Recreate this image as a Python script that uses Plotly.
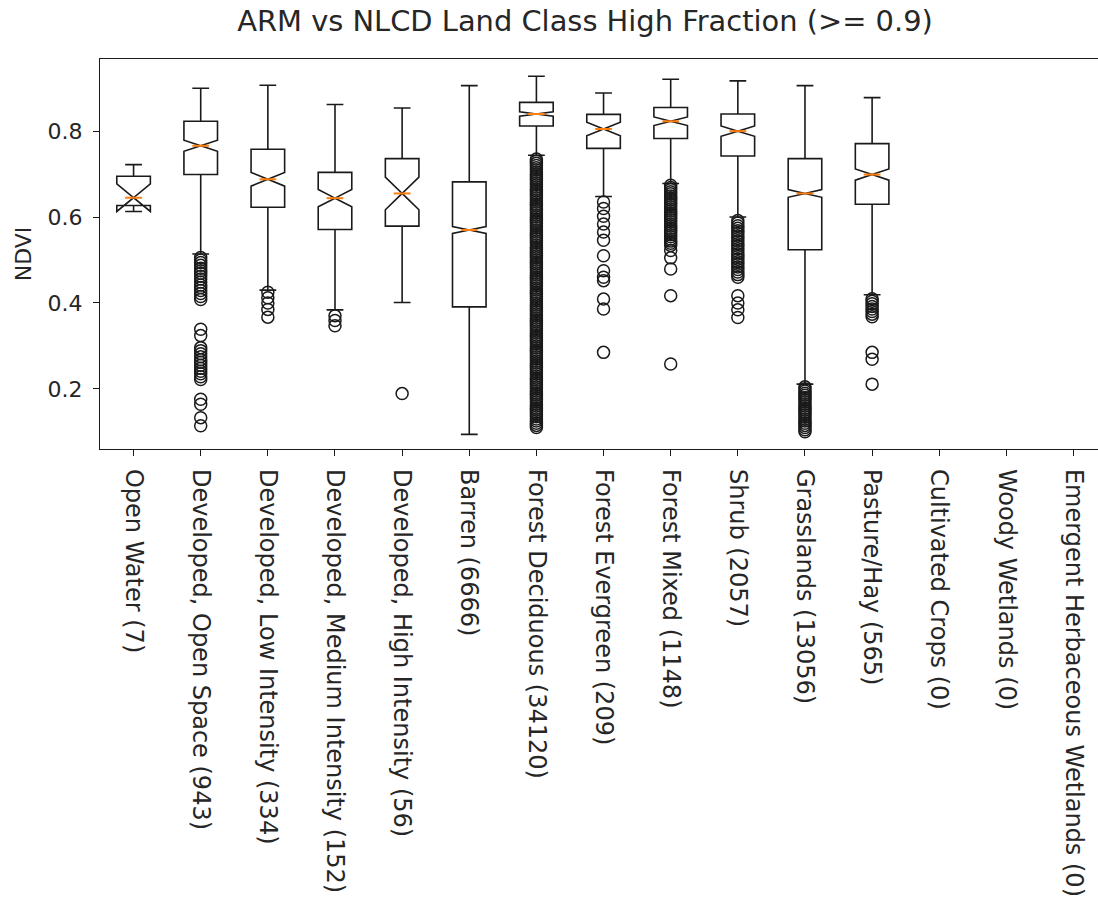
import plotly.graph_objects as go

categories = [
    "Open Water (7)", "Developed, Open Space (943)", "Developed, Low Intensity (334)",
    "Developed, Medium Intensity (152)", "Developed, High Intensity (56)", "Barren (6666)",
    "Forest Deciduous (34120)", "Forest Evergreen (209)", "Forest Mixed (1148)",
    "Shrub (2057)", "Grasslands (13056)", "Pasture/Hay (565)", "Cultivated Crops (0)",
    "Woody Wetlands (0)", "Emergent Herbaceous Wetlands (0)",
]

# box statistics (first 12 classes have data; last 3 are empty)
q1 = [0.627, 0.699, 0.623, 0.571, 0.579, 0.391, 0.812, 0.760, 0.783, 0.742, 0.524, 0.630]
median = [0.645, 0.766, 0.688, 0.644, 0.655, 0.570, 0.840, 0.805, 0.823, 0.800, 0.655, 0.699]
q3 = [0.695, 0.823, 0.758, 0.704, 0.736, 0.682, 0.867, 0.839, 0.855, 0.840, 0.736, 0.771]
lower_whisker = [0.627, 0.514, 0.430, 0.384, 0.401, 0.094, 0.744, 0.648, 0.678, 0.600, 0.211, 0.419]
upper_whisker = [0.722, 0.900, 0.907, 0.862, 0.854, 0.906, 0.928, 0.889, 0.921, 0.917, 0.906, 0.878]
notch_half = [0.032, 0.013, 0.016, 0.020, 0.038, 0.008, 0.005, 0.016, 0.010, 0.012, 0.009, 0.013]

outliers_open_water = []
outliers_dev_open = [0.506, 0.500, 0.494, 0.488, 0.481, 0.475, 0.469, 0.462, 0.456, 0.449,
                     0.442, 0.436, 0.429, 0.422, 0.415, 0.408, 0.339, 0.324,
                     0.296, 0.289, 0.282, 0.275, 0.268, 0.262, 0.255, 0.248, 0.241, 0.235,
                     0.228, 0.222, 0.176, 0.164, 0.133, 0.114]
outliers_dev_low = [0.425, 0.412, 0.400, 0.385, 0.367]
outliers_dev_med = [0.370, 0.359, 0.347]
outliers_dev_high = [0.189]
outliers_barren = []
outliers_deciduous = [
    0.735, 0.730, 0.725, 0.720, 0.715, 0.710, 0.705, 0.700, 0.695, 0.690,
    0.685, 0.680, 0.675, 0.670, 0.665, 0.660, 0.655, 0.650, 0.645, 0.640,
    0.635, 0.630, 0.625, 0.620, 0.615, 0.610, 0.605, 0.600, 0.595, 0.590,
    0.585, 0.580, 0.575, 0.570, 0.565, 0.560, 0.555, 0.550, 0.545, 0.540,
    0.535, 0.530, 0.525, 0.520, 0.515, 0.510, 0.505, 0.500, 0.495, 0.490,
    0.485, 0.480, 0.475, 0.470, 0.465, 0.460, 0.455, 0.450, 0.445, 0.440,
    0.435, 0.430, 0.425, 0.420, 0.415, 0.410, 0.405, 0.400, 0.395, 0.390,
    0.385, 0.380, 0.375, 0.370, 0.365, 0.360, 0.355, 0.350, 0.345, 0.340,
    0.335, 0.330, 0.325, 0.320, 0.315, 0.310, 0.305, 0.300, 0.295, 0.290,
    0.285, 0.280, 0.275, 0.270, 0.265, 0.260, 0.255, 0.250, 0.245, 0.240,
    0.235, 0.230, 0.225, 0.220, 0.215, 0.210, 0.205, 0.200, 0.195, 0.190,
    0.185, 0.180, 0.175, 0.170, 0.165, 0.160, 0.155, 0.150, 0.145, 0.140,
    0.135, 0.130, 0.125, 0.120, 0.115, 0.110,
]
outliers_evergreen = [0.635, 0.620, 0.602, 0.584, 0.565, 0.546, 0.510, 0.475, 0.460, 0.452,
                      0.409, 0.386, 0.285]
outliers_mixed = [0.674, 0.669, 0.664, 0.659, 0.654, 0.649, 0.644, 0.639, 0.634, 0.629,
                  0.624, 0.619, 0.614, 0.609, 0.604, 0.599, 0.594, 0.589, 0.584, 0.579,
                  0.574, 0.569, 0.564, 0.559, 0.554, 0.549, 0.544, 0.539, 0.534,
                  0.522, 0.505, 0.479, 0.417, 0.258]
outliers_shrub = [0.592, 0.586, 0.580, 0.574, 0.568, 0.562, 0.556, 0.550, 0.544, 0.538,
                  0.532, 0.526, 0.520, 0.514, 0.508, 0.502, 0.496, 0.490, 0.484, 0.478,
                  0.472, 0.466, 0.460, 0.417, 0.400, 0.384, 0.366]
outliers_grass = [0.205, 0.200, 0.195, 0.190, 0.185, 0.180, 0.175, 0.170, 0.165, 0.160,
                  0.155, 0.150, 0.145, 0.140, 0.135, 0.130, 0.125, 0.120, 0.115, 0.110,
                  0.105, 0.100]
outliers_pasture = [0.410, 0.404, 0.398, 0.392, 0.386, 0.380, 0.374, 0.368, 0.285, 0.269, 0.211]

all_outliers = [outliers_open_water, outliers_dev_open, outliers_dev_low, outliers_dev_med,
                outliers_dev_high, outliers_barren, outliers_deciduous, outliers_evergreen,
                outliers_mixed, outliers_shrub, outliers_grass, outliers_pasture]

BOX_W = 0.5
LINE = "#1a1a1a"
TXT = "#262626"
FONT = "DejaVu Sans"
FIG_W, FIG_H = 1098, 899

fig = go.Figure()

for i in range(len(q1)):
    pos = i + 1
    fig.add_trace(go.Box(
        x=[pos], q1=[q1[i]], median=[median[i]], q3=[q3[i]],
        lowerfence=[lower_whisker[i]], upperfence=[upper_whisker[i]],
        notched=True, notchspan=[notch_half[i]], notchwidth=0.5,
        width=BOX_W, whiskerwidth=0.5,
        line=dict(color=LINE, width=1.6), fillcolor="rgba(0,0,0,0)",
        boxpoints=False, showlegend=False, hoverinfo="skip",
    ))

# outliers
ox, oy = [], []
for i, vals in enumerate(all_outliers):
    for v in vals:
        ox.append(i + 1)
        oy.append(v)
fig.add_trace(go.Scatter(
    x=ox, y=oy, mode="markers", showlegend=False, hoverinfo="skip",
    marker=dict(symbol="circle-open", size=12, color=LINE, line=dict(width=1.5, color=LINE)),
))

# orange median lines across notch waist
mx, my = [], []
for i, m in enumerate(median):
    pos = i + 1
    mx += [pos - BOX_W * 0.25, pos + BOX_W * 0.25, None]
    my += [m, m, None]
fig.add_trace(go.Scatter(x=mx, y=my, mode="lines", showlegend=False, hoverinfo="skip",
                         line=dict(color="#ff7f0e", width=2)))

plot_top, plot_bottom, plot_left = 59, 449, 100
fig.update_layout(
    width=FIG_W, height=FIG_H,
    margin=dict(l=plot_left, r=0, t=plot_top, b=FIG_H - plot_bottom, autoexpand=False),
    paper_bgcolor="white", plot_bgcolor="white",
    font=dict(family=FONT, color=TXT),
    title=dict(text="ARM vs NLCD Land Class High Fraction (>= 0.9)",
               x=585 / FIG_W, xref="container", xanchor="center",
               y=1 - 21 / FIG_H, yref="container", yanchor="middle",
               font=dict(size=28.9, family=FONT, color=TXT)),
    boxmode="overlay",
    hovermode=False,
)
fig.update_xaxes(
    range=[0.5, 0.5 + 998 / 67.14], automargin=False,
    tickmode="array", tickvals=list(range(1, len(categories) + 1)), ticktext=categories,
    tickangle=90, tickfont=dict(size=24, family=FONT, color=TXT),
    showline=True, mirror=True, linecolor=LINE, linewidth=1.3,
    ticks="outside", ticklen=6, tickcolor=LINE, tickwidth=1.3,
    showgrid=False, zeroline=False, ticklabelstandoff=8,
)
fig.update_yaxes(
    range=[0.06, 0.968], automargin=False,
    tickmode="array", tickvals=[0.2, 0.4, 0.6, 0.8], ticktext=["0.2", "0.4", "0.6", "0.8"],
    tickfont=dict(size=22, family=FONT, color=TXT),
    showline=True, mirror=False, linecolor=LINE, linewidth=1.3,
    ticks="outside", ticklen=6, tickcolor=LINE, tickwidth=1.3,
    showgrid=False, zeroline=False, ticklabelstandoff=6,
    title=dict(text="NDVI", font=dict(size=22, family=FONT, color=TXT), standoff=9),
)

# remove the browser's default 8px page margin so the figure fills the window exactly
fig.write_html("out.html",
               config={"displayModeBar": False},
               post_script="document.body.style.margin='0px';document.body.style.overflow='hidden';")
